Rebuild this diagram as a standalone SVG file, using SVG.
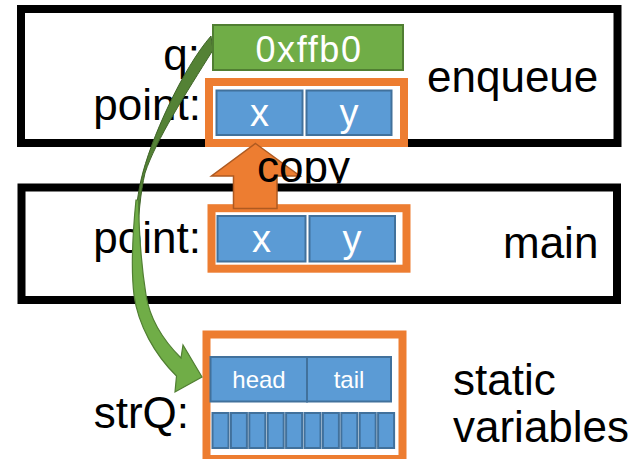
<svg xmlns="http://www.w3.org/2000/svg" width="631" height="459" viewBox="0 0 631 459">
<style>
.frame{fill:none;stroke:#000;stroke-width:8}
.obox{fill:#fff;stroke:#ed7d31;stroke-width:8}
.cell{fill:#5b9bd5;stroke:#41719c;stroke-width:2}
.lbl{font-family:"Liberation Sans",Arial,sans-serif;font-size:44px;fill:#000}
.ctext{font-family:"Liberation Sans",Arial,sans-serif;font-size:38px;fill:#fff;text-anchor:middle}
.stext{font-family:"Liberation Sans",Arial,sans-serif;font-size:24px;fill:#fff;text-anchor:middle}
</style>
<defs>
<clipPath id="copyclip"><rect x="0" y="0" width="631" height="183.5"/></clipPath>
</defs>
<rect width="631" height="459" fill="#fff"/>

<g id="enqueue-frame">
<rect class="frame" x="21" y="9" width="596.5" height="134"/>
<text class="lbl" x="427" y="92" font-size="43.5">enqueue</text>
</g>

<g id="main-frame">
<rect class="frame" x="21.5" y="187.5" width="595.5" height="112.5"/>
<text class="lbl" x="503" y="258" font-size="43">main</text>
</g>

<g id="labels">
<text class="lbl" x="200" y="70" text-anchor="end">q:</text>
<text class="lbl" x="201" y="120" text-anchor="end">point:</text>
<text class="lbl" x="201" y="253" text-anchor="end">point:</text>
<text class="lbl" x="189" y="428" text-anchor="end">strQ:</text>
<text class="lbl" x="453" y="395" font-size="43">static</text>
<text class="lbl" x="453" y="442" font-size="42">variables</text>
</g>

<g id="enqueue-point">
<rect class="obox" x="209" y="82" width="195" height="61"/>
<rect class="cell" x="216.5" y="90.5" width="86" height="44.5"/>
<rect class="cell" x="306.5" y="90.5" width="85" height="44.5"/>
<text class="ctext" x="259.5" y="126">x</text>
<text class="ctext" x="349" y="126">y</text>
</g>

<g id="main-point">
<rect class="obox" x="211.5" y="208.2" width="195" height="60.5"/>
<rect class="cell" x="217.5" y="216" width="88" height="45.5"/>
<rect class="cell" x="309.5" y="216" width="85.5" height="45.5"/>
<text class="ctext" x="261.5" y="252">x</text>
<text class="ctext" x="352" y="252">y</text>
</g>

<g id="strQ">
<rect class="obox" x="206.5" y="334.5" width="196" height="124.5"/>
<rect class="cell" x="210.5" y="357" width="96.5" height="44.5"/>
<rect class="cell" x="307" y="357" width="84" height="44.5"/>
<text class="stext" x="259" y="388">head</text>
<text class="stext" x="349" y="388">tail</text>
<g class="arr">
<rect class="cell" x="212.5" y="413" width="16" height="35"/>
<rect class="cell" x="230.9" y="413" width="16" height="35"/>
<rect class="cell" x="249.3" y="413" width="16" height="35"/>
<rect class="cell" x="267.7" y="413" width="16" height="35"/>
<rect class="cell" x="286.1" y="413" width="16" height="35"/>
<rect class="cell" x="304.5" y="413" width="16" height="35"/>
<rect class="cell" x="322.9" y="413" width="16" height="35"/>
<rect class="cell" x="341.3" y="413" width="16" height="35"/>
<rect class="cell" x="359.7" y="413" width="16" height="35"/>
<rect class="cell" x="378.1" y="413" width="16" height="35"/>
</g>
</g>

<g id="connectors">
<g id="copy-arrow">
<polygon points="255.5,143.5 300,176 277,176 277,208.5 233.5,208.5 233.5,176 211.5,176" fill="#ed7d31" stroke="#ae5a21" stroke-width="1.5" stroke-linejoin="miter"/>
<text class="lbl" x="257" y="182" font-size="42" clip-path="url(#copyclip)">copy</text>
</g>
<g id="pointer-arrow">
<path d="M211,36 C183,68 150,140 141,180 C137,198 134.5,220 134,245 L137.5,245 C138,218 140.5,192 145,173 C156,140 186,93 213,50 Z" fill="#548235" stroke="#3f6428" stroke-width="1"/>
<path d="M136,200 C133,230 131,270 134,295 C138,325 155,355 176.5,376 L175,392 L202,377 L183,345 L181,358 C165,342 150,320 146,295 C142,270 139,235 138.5,200 Z" fill="#70ad47" stroke="#507e32" stroke-width="1.2" stroke-linejoin="miter"/>
</g>
</g>

<g id="q-value">
<rect x="213" y="25" width="190" height="45" fill="#70ad47" stroke="#507e32" stroke-width="2"/>
<text x="309" y="62" font-family="'Liberation Sans',Arial,sans-serif" font-size="36" fill="#fff" text-anchor="middle" letter-spacing="1.6">0xffb0</text>
</g>
</svg>
